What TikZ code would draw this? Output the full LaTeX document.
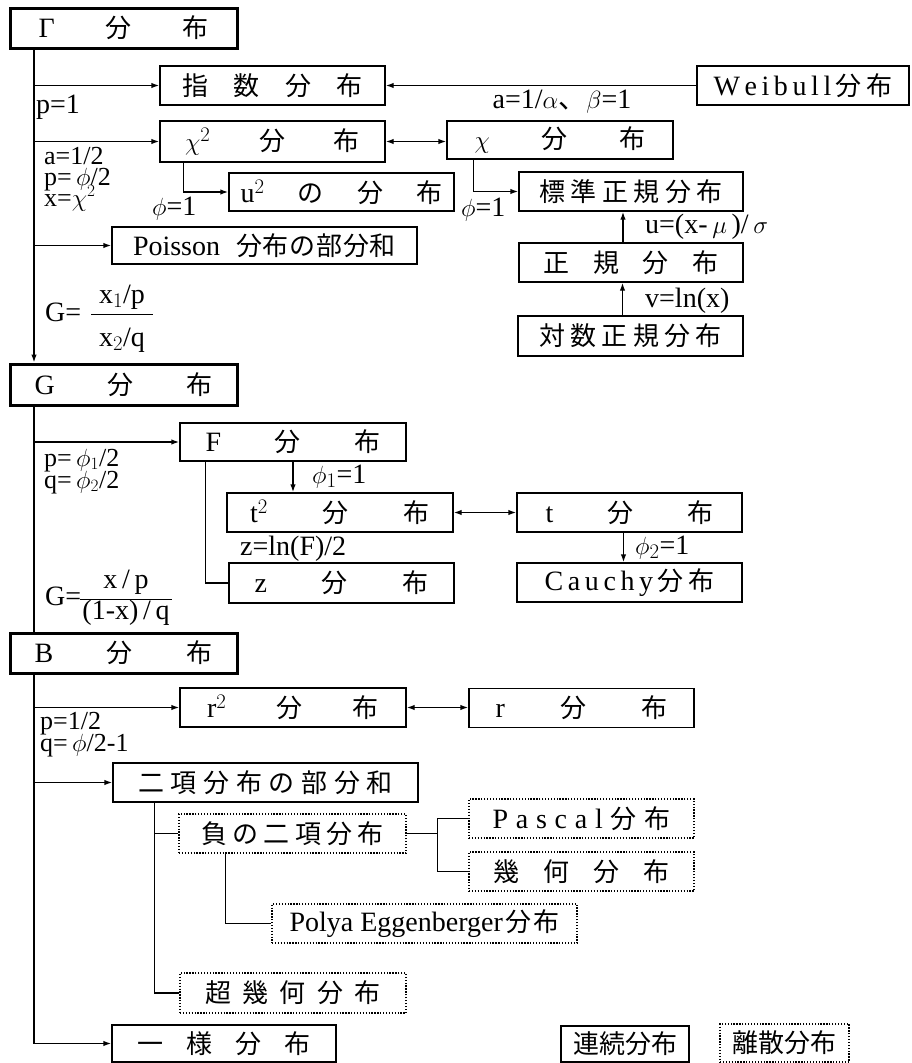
\documentclass[tikz,border=0pt]{standalone}
\usepackage{fontspec}
\setmainfont{Liberation Serif}
\newfontfamily\jafont{Noto Sans CJK JP}
\usetikzlibrary{arrows.meta}
\newcommand\JA[1]{{\jafont #1}}
\newcommand\LT[1]{{\rmfamily\fontsize{28}{30}\selectfont #1}}
\newcommand\spr[2]{\makebox[#1pt]{#2}}
\tikzset{
  pbox/.style={draw, line width=1.4pt, inner sep=0pt, font=\jafont\fontsize{26}{30}\selectfont},
  tbox/.style={pbox, line width=3pt},
  dbox/.style={pbox, line width=1.3pt, dash pattern=on 1.3pt off 1.6pt},
  lab/.style={font=\rmfamily\fontsize{28}{30}\selectfont, inner sep=0pt},
  slab/.style={font=\rmfamily\fontsize{26}{28}\selectfont, inner sep=0pt},
  ln/.style={line width=1.4pt},
  arr/.style={line width=1.4pt, -{Latex[length=8pt,width=5.5pt]}},
  dar/.style={line width=1.4pt, {Latex[length=8pt,width=5.5pt]}-{Latex[length=8pt,width=5.5pt]}},
}
\begin{document}
\begin{tikzpicture}[x=1pt,y=-1pt]
\useasboundingbox (0,0) rectangle (912,1063);
\coordinate (tx) at (34,0);
% ---- Gamma group
\node[tbox, minimum width=227pt, minimum height=40pt] (gam) at (123.5,28) {\spr{170}{\LT{Γ}\hfill 分\hfill 布}\hspace{10pt}};
\node[pbox, minimum width=225pt, minimum height=39pt] (exp) at (272.5,85.5) {\spr{181}{指\hfill 数\hfill 分\hfill 布}};
\node[pbox, minimum width=212pt, minimum height=39pt] (wei) at (803,85.5) {\spr{179}{\LT{W}\hfill\LT{e}\hfill\LT{i}\hfill\LT{b}\hfill\LT{u}\hfill\LT{l}\hfill\LT{l}\hfill 分\hfill 布}};
\node[pbox, minimum width=225pt, minimum height=41pt] (chi2) at (272.5,141.5) {\spr{175}{\LT{$\chi^{2}$}\hfill 分\hfill 布}};
\node[pbox, minimum width=226pt, minimum height=38pt] (chi) at (560,140) {\spr{171}{\LT{$\chi$}\hfill 分\hfill 布}};
\node[pbox, minimum width=225pt, minimum height=38pt] (u2) at (341.5,192) {\spr{202}{\LT{u$^{2}$}\hfill の\hfill 分\hfill 布}};
\node[pbox, minimum width=305pt, minimum height=37pt] (poi) at (264.5,245.5) {\makebox[263pt]{\LT{Poisson}\hfill\makebox[160pt]{分\hfill 布\hfill の\hfill 部\hfill 分\hfill 和}}};
\node[pbox, minimum width=224pt, minimum height=39pt] (std) at (631,191.5) {\spr{183}{標\hfill 準\hfill 正\hfill 規\hfill 分\hfill 布}};
\node[pbox, minimum width=224pt, minimum height=39pt] (nor) at (631,262.5) {\spr{175}{正\hfill 規\hfill 分\hfill 布}};
\node[pbox, minimum width=225pt, minimum height=40pt] (lnor) at (630.5,336) {\spr{182}{対\hfill 数\hfill 正\hfill 規\hfill 分\hfill 布}};
% ---- G group
\node[tbox, minimum width=227pt, minimum height=41pt] (gdi) at (123.5,384.5) {\spr{178}{\LT{G}\hfill 分\hfill 布}\hspace{8pt}};
\node[pbox, minimum width=226pt, minimum height=38pt] (fdi) at (293,442) {\spr{175}{\LT{F}\hfill 分\hfill 布}\hspace{6pt}};
\node[pbox, minimum width=226pt, minimum height=39pt] (t2) at (340,512.5) {\spr{180}{\LT{t$^{2}$}\hfill 分\hfill 布}};
\node[pbox, minimum width=225pt, minimum height=39pt] (tdi) at (629.5,512.5) {\spr{168}{\LT{t}\hfill 分\hfill 布}};
\node[pbox, minimum width=225pt, minimum height=39pt] (cau) at (629.5,582.5) {\spr{170}{\LT{C}\hfill\LT{a}\hfill\LT{u}\hfill\LT{c}\hfill\LT{h}\hfill\LT{y}\hfill 分\hfill 布}};
\node[pbox, minimum width=225pt, minimum height=40pt] (zdi) at (341.5,583) {\spr{174}{\LT{z}\hfill 分\hfill 布}};
% ---- B group
\node[tbox, minimum width=227pt, minimum height=40pt] (bdi) at (123.5,653) {\spr{178}{\LT{B}\hfill 分\hfill 布}\hspace{8pt}};
\node[pbox, minimum width=226pt, minimum height=39pt] (r2) at (293,707.5) {\spr{172}{\LT{r$^{2}$}\hfill 分\hfill 布}\hspace{6pt}};
\node[pbox, minimum width=225pt, minimum height=39pt] (rdi) at (581.5,708) {\spr{172}{\LT{r}\hfill 分\hfill 布}};
\node[pbox, minimum width=305pt, minimum height=39pt] (bin) at (265.5,782.5) {\spr{255}{二\hfill 項\hfill 分\hfill 布\hfill の\hfill 部\hfill 分\hfill 和}};
\node[dbox, minimum width=227pt, minimum height=39pt] (nbi) at (292.5,833.5) {\spr{183}{負\hfill の\hfill 二\hfill 項\hfill 分\hfill 布}};
\node[dbox, minimum width=225pt, minimum height=39pt] (pas) at (581.5,818.5) {\spr{178}{\LT{P}\hfill\LT{a}\hfill\LT{s}\hfill\LT{c}\hfill\LT{a}\hfill\LT{l}\hfill 分\hfill 布}};
\node[dbox, minimum width=225pt, minimum height=39pt] (geo) at (581.5,871.5) {\spr{177}{幾\hfill 何\hfill 分\hfill 布}};
\node[dbox, minimum width=305pt, minimum height=39pt] (pol) at (424.5,923.5) {\makebox[270pt]{\LT{Polya Eggenberger}\hfill 分\hfill 布}};
\node[dbox, minimum width=226pt, minimum height=40pt] (hyp) at (293,993) {\spr{175}{超\hfill 幾\hfill 何\hfill 分\hfill 布}};
\node[pbox, minimum width=224pt, minimum height=37pt] (uni) at (224,1043.5) {\spr{173}{一\hfill 様\hfill 分\hfill 布}};
% ---- legend
\node[pbox, minimum width=128pt, minimum height=36pt] (leg1) at (625,1044) {連続分布};
\node[dbox, minimum width=129pt, minimum height=38pt] (leg2) at (784.5,1043) {離散分布};
% ---- labels
\node[lab, anchor=base west] (l1) at (36,113) {p=1};
\node[lab, anchor=base] (l2) at (562,108) {a=1/$\alpha$\JA{、}$\beta$=1};
\node[slab, anchor=base west] (l3) at (44,164) {a=1/2};
\node[slab, anchor=base west] (l4) at (44,185) {p=\,$\phi$/2};
\node[slab, anchor=base west] (l5) at (44,206) {x=$\chi^{2}$};
\node[lab, anchor=base west] (l6) at (152,215) {$\phi$=1};
\node[lab, anchor=base west] (l7) at (461,216) {$\phi$=1};
\node[lab, anchor=base west] (l8) at (645,233) {u=(x-\,$\mu$\,)/\,$\sigma$};
\node[lab, anchor=base west] (l9) at (645,307) {v=ln(x)};
\node[lab, anchor=base west] (l10) at (45,321) {G=};
\node[lab, anchor=base] (l11) at (122,303) {x$_{1}$/p};
\node[lab, anchor=base] (l12) at (122,346) {x$_{2}$/q};
\draw[line width=1pt] (91,314) -- (153,314);
\node[slab, anchor=base west] (l13) at (44,466) {p=\,$\phi_{1}$/2};
\node[slab, anchor=base west] (l14) at (44,488) {q=\,$\phi_{2}$/2};
\node[lab, anchor=base west] (l15) at (312,483) {$\phi_{1}$=1};
\node[lab, anchor=base west] (l16) at (240,555) {z=ln(F)/2};
\node[lab, anchor=base west] (l17) at (635,554) {$\phi_{2}$=1};
\node[lab, anchor=base west] (l18) at (45,605) {G=};
\node[lab, anchor=base] (l19) at (126,588) {x\,/\,p};
\node[lab, anchor=base] (l20) at (126,619) {(1-x)\,/\,q};
\draw[line width=1pt] (80,599) -- (172,599);
\node[slab, anchor=base west] (l21) at (40,729) {p=1/2};
\node[slab, anchor=base west] (l22) at (40,751) {q=\,$\phi$/2-1};
% ---- connectors: Gamma
\draw[arr] (gam.south -| tx) -- (gdi.north -| tx);
\draw[arr] (exp.west -| tx) -- (exp.west);
\draw[arr] (chi2.west -| tx) -- (chi2.west);
\draw[arr] (poi.west -| tx) -- (poi.west);
\draw[arr] (wei.west) -- (wei.west -| exp.east);
\draw[dar] (chi2.east) -- (chi2.east -| chi.west);
\draw[arr] ([xshift=24pt]chi2.south west) |- (u2.west);
\draw[arr] ([xshift=27pt]chi.south west) |- (std.west);
\draw[arr] ([xshift=-8pt]nor.north) -- ([xshift=-8pt]std.south);
\draw[arr] ([xshift=-8pt]lnor.north) -- ([xshift=-8pt]lnor.north |- nor.south);
% ---- connectors: G
\draw[ln] (gdi.south -| tx) -- (bdi.north -| tx);
\draw[arr] (fdi.west -| tx) -- (fdi.west);
\draw[arr] (fdi.south) -- (fdi.south |- t2.north);
\draw[ln] ([xshift=26pt]fdi.south west) |- (zdi.west);
\draw[dar] (t2.east) -- (t2.east -| tdi.west);
\draw[arr] ([xshift=-6pt]tdi.south) -- ([xshift=-6pt]cau.north);
% ---- connectors: B
\draw[arr] (bdi.south -| tx) |- (uni.west);
\draw[arr] (r2.west -| tx) -- (r2.west);
\draw[arr] (bin.west -| tx) -- (bin.west);
\draw[dar] (r2.east) -- (r2.east -| rdi.west);
\draw[ln] ([xshift=42pt]bin.south west) |- (hyp.west);
\draw[ln] ([xshift=42pt]bin.south west) |- (nbi.west);
\coordinate (nbj) at ([xshift=31pt]nbi.east);
\draw[ln] (nbi.east) -- (nbj);
\draw[ln] (pas.west) -| (nbj |- geo.west) -- (geo.west);
\draw[ln] ([xshift=47pt]nbi.south west) |- (pol.west);
\end{tikzpicture}
\end{document}
